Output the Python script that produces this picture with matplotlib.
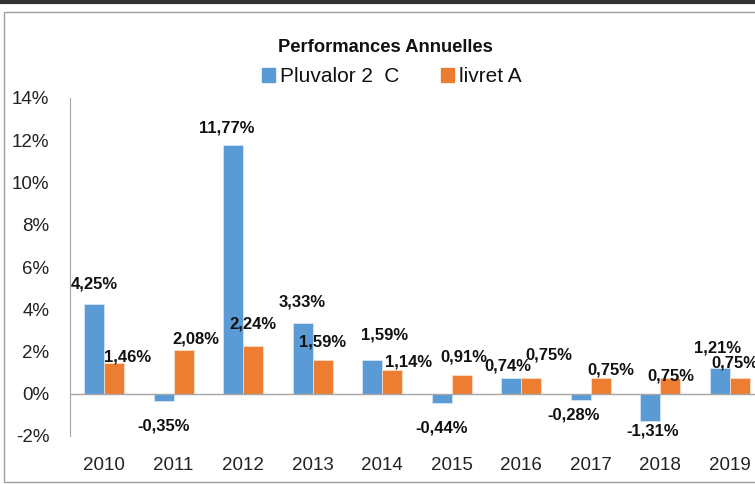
import matplotlib.pyplot as plt
import numpy as np
from matplotlib.lines import Line2D
from matplotlib.patches import Rectangle

plt.rcParams['font.family'] = ['Liberation Sans', 'DejaVu Sans']

years = ['2010', '2011', '2012', '2013', '2014', '2015', '2016', '2017', '2018', '2019']
pluvalor = [4.25, -0.35, 11.77, 3.33, 1.59, -0.44, 0.74, -0.28, -1.31, 1.21]
livret = [1.46, 2.08, 2.24, 1.59, 1.14, 0.91, 0.75, 0.75, 0.75, 0.75]
series_names = ['Pluvalor 2  C', 'livret A']

# label offsets (pixels: dx, dy upward) placed by hand like in the original
blue_off = [(0, 20), (0, -25), (-6, 17), (0, 21), (12, 25), (0, -25), (-3, 12), (-7, -15), (2, -10), (-2, 20)]
orange_off = [(13, 6), (12, 11), (0, 22), (0, 18), (16, 8), (2, 18), (18, 23), (10, 8), (0, 2), (-5, 15)]

blue = '#5B9BD5'
orange = '#ED7D31'

fig = plt.figure(figsize=(7.55, 4.84), dpi=100)
ax = fig.add_axes([70 / 755, 1 - 436 / 484, 694 / 755, 338 / 484])

x = np.arange(len(years))
w = 20 / 69.5
b1 = ax.bar(x - w / 2, pluvalor, w, color=blue, edgecolor='#DDEBF7', linewidth=0.5)
b2 = ax.bar(x + w / 2, livret, w, color=orange, edgecolor='#FBE5D6', linewidth=0.5)

def fmt(v):
    return ('%.2f%%' % v).replace('.', ',')

for bars, vals, offs in [(b1, pluvalor, blue_off), (b2, livret, orange_off)]:
    for bar, v, (dx, dy) in zip(bars, vals, offs):
        ax.annotate(fmt(v), (bar.get_x() + bar.get_width() / 2, v),
                    xytext=(dx * 0.72, dy * 0.72), textcoords='offset points',
                    ha='center', va='center', fontsize=12, fontweight='bold',
                    color='#111111', annotation_clip=False)

ax.set_xlim(-0.49, 9.49)
ax.set_ylim(-2, 14)
ax.set_yticks(range(-2, 15, 2))
ax.set_yticklabels(['%d%%' % t for t in range(-2, 15, 2)])
ax.set_xticks(x)
ax.set_xticklabels(years)
ax.tick_params(axis='y', length=0, pad=15, labelsize=13.5, labelcolor='#222222')
ax.tick_params(axis='x', length=0, pad=15, labelsize=13.5, labelcolor='#222222')
for s in ['top', 'right', 'bottom']:
    ax.spines[s].set_visible(False)
ax.spines['left'].set_color('#A6A6A6')
ax.axhline(0, color='#A6A6A6', lw=1, zorder=3)

fig.text(385 / 755, 1 - 47 / 484, 'Performances Annuelles', ha='center', va='center',
         fontsize=13.2, fontweight='bold', color='#111111')
handles = [Rectangle((0, 0), 1, 1, color=blue), Rectangle((0, 0), 1, 1, color=orange)]
fig.legend(handles, series_names, loc='center', bbox_to_anchor=(392 / 755, 1 - 77 / 484),
           ncol=2, frameon=False, fontsize=15, handlelength=0.62, handleheight=0.62,
           handletextpad=0.25, columnspacing=2.0, labelcolor='#111111',
           borderpad=0, borderaxespad=0)

# outer frame and top border line
fig.add_artist(Rectangle((4 / 755, 2 / 484), 1.0, 1 - 14 / 484, transform=fig.transFigure,
                         fill=False, edgecolor='#9E9E9E', lw=1))
fig.add_artist(Line2D([0, 1], [1 - 2 / 484, 1 - 2 / 484], transform=fig.transFigure,
                      color='#333333', lw=3))

fig.savefig('out.png', dpi=100)
